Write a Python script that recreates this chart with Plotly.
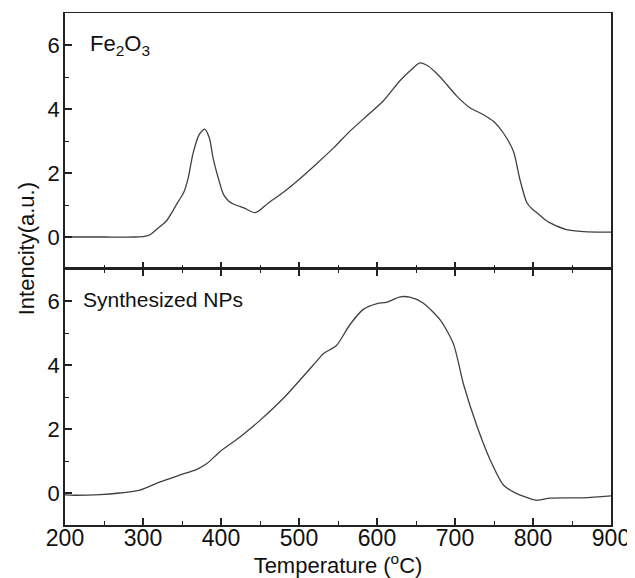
import plotly.graph_objects as go
from plotly.subplots import make_subplots

# Fe2O3 panel (top)
fe_temp = [200, 250, 290, 302, 309, 317, 330, 339, 345, 352, 358, 364, 372, 379, 385, 390,
           397, 403, 410, 416, 430, 444, 460, 480, 500, 523, 545, 565, 590, 608, 630, 645,
           655, 665, 677, 690, 702, 719, 736, 750, 762, 775, 783, 792, 800, 805, 815, 822,
           843, 865, 900]
fe_int = [0.0, 0.0, 0.0, 0.02, 0.07, 0.23, 0.5, 0.85, 1.1, 1.38, 1.85, 2.6, 3.2, 3.37, 3.1, 2.45,
          1.8, 1.34, 1.12, 1.03, 0.9, 0.76, 1.05, 1.4, 1.8, 2.3, 2.8, 3.3, 3.85, 4.25, 4.9, 5.25,
          5.44, 5.35, 5.1, 4.75, 4.41, 4.04, 3.83, 3.6, 3.25, 2.67, 1.82, 1.08, 0.85, 0.76, 0.55, 0.44,
          0.23, 0.17, 0.15]

# Synthesized NPs panel (bottom)
np_temp = [200, 211, 245, 270, 296, 322, 347, 369, 382, 399, 424, 437, 450, 480, 523, 531,
           548, 565, 582, 600, 612, 630, 642, 659, 681, 698, 711, 728, 745, 762, 779, 790,
           805, 822, 865, 900]
np_int = [-0.06, -0.07, -0.05, 0.0, 0.09, 0.35, 0.56, 0.74, 0.92, 1.3, 1.74, 2.0, 2.27, 2.96, 4.13, 4.35,
          4.61, 5.25, 5.73, 5.92, 5.96, 6.13, 6.12, 5.94, 5.41, 4.66, 3.39, 2.1, 1.04, 0.25, -0.02, -0.12,
          -0.23, -0.16, -0.15, -0.09]

x_ticks = [200, 300, 400, 500, 600, 700, 800, 900]
y_ticks = [0, 2, 4, 6]

FONT = "Liberation Sans, Arial, sans-serif"
LINE = "#404040"
AXIS = "#222222"

fig = make_subplots(rows=2, cols=1, shared_xaxes=True, vertical_spacing=0)

fig.add_trace(go.Scatter(x=fe_temp, y=fe_int, mode="lines",
                         line={"color": LINE, "width": 1.3, "shape": "spline", "smoothing": 0.7},
                         showlegend=False), row=1, col=1)
fig.add_trace(go.Scatter(x=np_temp, y=np_int, mode="lines",
                         line={"color": LINE, "width": 1.3, "shape": "spline", "smoothing": 0.7},
                         showlegend=False), row=2, col=1)

for r in (1, 2):
    fig.update_xaxes(
        range=[200, 900], tickvals=x_ticks, ticks="inside", ticklen=7, tickwidth=1.5,
        tickcolor=AXIS, showline=True, linecolor=AXIS, linewidth=1.5 if r == 2 else 1,
        mirror="ticks" if r == 2 else True, showgrid=False, zeroline=False, automargin=False,
        minor={"ticks": "inside", "ticklen": 4, "tickwidth": 1.2, "tickcolor": AXIS, "dtick": 50,
               "tick0": 250, "showgrid": False},
        tickfont={"size": 23, "color": "#111", "family": FONT}, ticklabelstandoff=-8,
        row=r, col=1,
    )
    fig.update_yaxes(
        range=[-1, 7], tickvals=y_ticks, ticks="inside", ticklen=7, tickwidth=1.5,
        tickcolor=AXIS, showline=True, linecolor=AXIS, linewidth=1.5, mirror=True,
        showgrid=False, zeroline=False, automargin=False,
        minor={"ticks": "inside", "ticklen": 4, "tickwidth": 1.2, "tickcolor": AXIS,
               "tickvals": [1, 3, 5], "showgrid": False},
        tickfont={"size": 22, "color": "#111", "family": FONT}, ticklabelstandoff=-1,
        row=r, col=1,
    )

fig.update_xaxes(title_text="Temperature (<sup>o</sup>C)", title_standoff=0,
                 title_font={"size": 22, "color": "#111", "family": FONT}, row=2, col=1)

fig.add_annotation(x=230, y=6, xref="x", yref="y", text="Fe<sub>2</sub>O<sub>3</sub>",
                   showarrow=False, xanchor="left", yanchor="middle",
                   font={"size": 22, "color": "#111", "family": FONT})
fig.add_annotation(x=221, y=6.05, xref="x2", yref="y2", text="Synthesized NPs",
                   showarrow=False, xanchor="left", yanchor="middle",
                   font={"size": 21, "color": "#111", "family": FONT})
fig.add_annotation(x=-0.07, y=0.54, xref="paper", yref="paper", text="Intencity(a.u.)",
                   textangle=-90, showarrow=False, xanchor="center", yanchor="middle",
                   font={"size": 22, "color": "#111", "family": FONT})

# page body keeps an 8px margin, so the figure is 8px smaller and margins shifted
fig.update_layout(
    width=627, height=570,
    margin={"l": 57, "r": 24, "t": 5, "b": 53},
    plot_bgcolor="white", paper_bgcolor="white",
    font={"family": FONT},
)

fig.write_html("out.html")
